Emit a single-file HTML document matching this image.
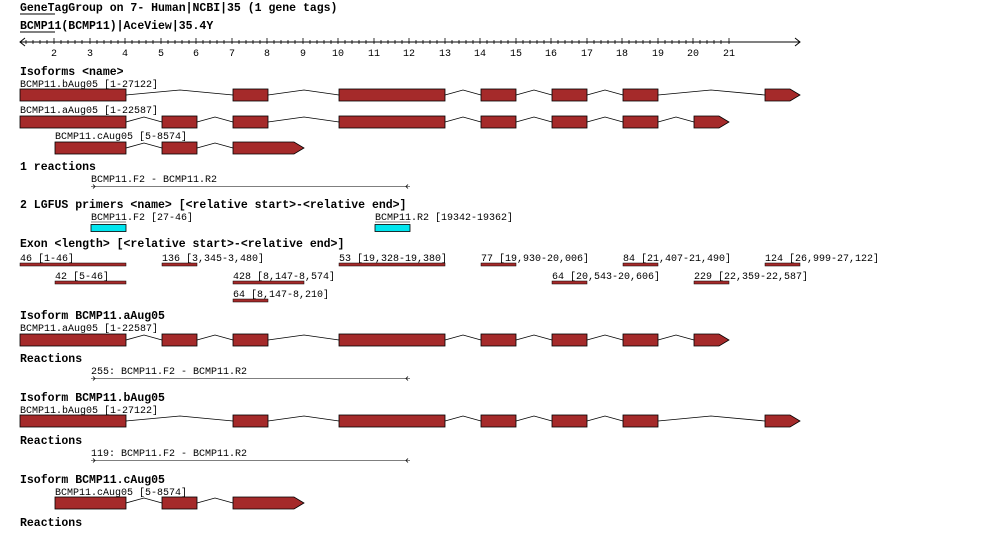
<!DOCTYPE html>
<html><head><style>
body{margin:0;background:#fff;}
svg{display:block;}
text{font-family:"Liberation Mono",monospace;fill:#000;}
.s{font-size:10px;}
.b{font-size:11.5px;font-weight:bold;}
.ex{fill:#a52a2a;stroke:#000;stroke-width:0.8;}
.in{fill:none;stroke:#000;stroke-width:0.8;}
.bar{fill:#a52a2a;stroke:#000;stroke-width:0.5;}
</style></head><body>
<svg width="1000" height="536" xmlns="http://www.w3.org/2000/svg">
<text class="b" x="20" y="11">GeneTagGroup on 7- Human|NCBI|35 (1 gene tags)</text>
<line x1="20" y1="14" x2="55" y2="14" stroke="#000"/>
<text class="b" x="20" y="29">BCMP11(BCMP11)|AceView|35.4Y</text>
<line x1="20" y1="32" x2="55" y2="32" stroke="#000"/>
<!-- axis -->
<line x1="20" y1="42" x2="800" y2="42" stroke="#000"/>
<polyline points="25,38 20,42 25,46" fill="none" stroke="#000"/>
<polyline points="795,38 800,42 795,46" fill="none" stroke="#000"/>
<g stroke="#000" stroke-width="0.8" id="ticks">
<script>/*no-op*/</script>
</g>
<g stroke="#000" stroke-width="0.8">
<path d="M26,40v4M33,40v4M40,40v4M47,40v4M54,38v6M61,40v4M68,40v4M75,40v4M82,40v4M90,38v6M97,40v4M104,40v4M111,40v4M118,40v4M125,38v6M132,40v4M139,40v4M146,40v4M153,40v4M161,38v6M168,40v4M175,40v4M182,40v4M189,40v4M196,38v6M203,40v4M210,40v4M217,40v4M224,40v4M232,38v6M239,40v4M246,40v4M253,40v4M260,40v4M267,38v6M274,40v4M281,40v4M288,40v4M295,40v4M303,38v6M310,40v4M317,40v4M324,40v4M331,40v4M338,38v6M345,40v4M352,40v4M359,40v4M366,40v4M374,38v6M381,40v4M388,40v4M395,40v4M402,40v4M409,38v6M416,40v4M423,40v4M430,40v4M437,40v4M445,38v6M452,40v4M459,40v4M466,40v4M473,40v4M480,38v6M487,40v4M494,40v4M501,40v4M508,40v4M516,38v6M523,40v4M530,40v4M537,40v4M544,40v4M551,38v6M558,40v4M565,40v4M572,40v4M579,40v4M587,38v6M594,40v4M601,40v4M608,40v4M615,40v4M622,38v6M629,40v4M636,40v4M643,40v4M650,40v4M658,38v6M665,40v4M672,40v4M679,40v4M686,40v4M693,38v6M700,40v4M707,40v4M714,40v4M721,40v4M729,38v6"/>
</g>
<g class="s">
<text x="51" y="56">2</text><text x="87" y="56">3</text><text x="122" y="56">4</text><text x="158" y="56">5</text><text x="193" y="56">6</text><text x="229" y="56">7</text><text x="264" y="56">8</text><text x="300" y="56">9</text><text x="332" y="56">10</text><text x="368" y="56">11</text><text x="403" y="56">12</text><text x="439" y="56">13</text><text x="474" y="56">14</text><text x="510" y="56">15</text><text x="545" y="56">16</text><text x="581" y="56">17</text><text x="616" y="56">18</text><text x="652" y="56">19</text><text x="687" y="56">20</text><text x="723" y="56">21</text>
</g>

<text class="b" x="20" y="75">Isoforms &lt;name&gt;</text>
<text class="s" x="20" y="87">BCMP11.bAug05 [1-27122]</text>
<!-- b row top -->
<g>
<polyline class="in" points="126,95 180,90 233,95"/>
<polyline class="in" points="268,95 304,90 339,95"/>
<polyline class="in" points="445,95 463,90 481,95"/>
<polyline class="in" points="516,95 534,90 552,95"/>
<polyline class="in" points="587,95 605,90 623,95"/>
<polyline class="in" points="658,95 711,90 765,95"/>
<rect class="ex" x="20" y="89" width="106" height="12"/>
<rect class="ex" x="233" y="89" width="35" height="12"/>
<rect class="ex" x="339" y="89" width="106" height="12"/>
<rect class="ex" x="481" y="89" width="35" height="12"/>
<rect class="ex" x="552" y="89" width="35" height="12"/>
<rect class="ex" x="623" y="89" width="35" height="12"/>
<polygon class="ex" points="765,89 790,89 800,95 790,101 765,101"/>
</g>
<text class="s" x="20" y="113">BCMP11.aAug05 [1-22587]</text>
<g>
<polyline class="in" points="126,122 144,117 162,122"/>
<polyline class="in" points="197,122 215,117 233,122"/>
<polyline class="in" points="268,122 304,117 339,122"/>
<polyline class="in" points="445,122 463,117 481,122"/>
<polyline class="in" points="516,122 534,117 552,122"/>
<polyline class="in" points="587,122 605,117 623,122"/>
<polyline class="in" points="658,122 676,117 694,122"/>
<rect class="ex" x="20" y="116" width="106" height="12"/>
<rect class="ex" x="162" y="116" width="35" height="12"/>
<rect class="ex" x="233" y="116" width="35" height="12"/>
<rect class="ex" x="339" y="116" width="106" height="12"/>
<rect class="ex" x="481" y="116" width="35" height="12"/>
<rect class="ex" x="552" y="116" width="35" height="12"/>
<rect class="ex" x="623" y="116" width="35" height="12"/>
<polygon class="ex" points="694,116 719,116 729,122 719,128 694,128"/>
</g>
<text class="s" x="55" y="139">BCMP11.cAug05 [5-8574]</text>
<g>
<polyline class="in" points="126,148 144,143 162,148"/>
<polyline class="in" points="197,148 215,143 233,148"/>
<rect class="ex" x="55" y="142" width="71" height="12"/>
<rect class="ex" x="162" y="142" width="35" height="12"/>
<polygon class="ex" points="233,142 294,142 304,148 294,154 233,154"/>
</g>

<text class="b" x="20" y="170">1 reactions</text>
<text class="s" x="91" y="182">BCMP11.F2 - BCMP11.R2</text>
<line x1="91" y1="186.5" x2="410" y2="186.5" stroke="#555" stroke-width="0.8"/>
<polyline points="93,184.5 95,186.5 93,188.5" fill="none" stroke="#000" stroke-width="0.8"/>
<polyline points="408,184.5 406,186.5 408,188.5" fill="none" stroke="#000" stroke-width="0.8"/>

<text class="b" x="20" y="208">2 LGFUS primers &lt;name&gt; [&lt;relative start&gt;-&lt;relative end&gt;]</text>
<text class="s" x="91" y="220">BCMP11.F2 [27-46]</text>
<text class="s" x="375" y="220">BCMP11.R2 [19342-19362]</text>
<line x1="91" y1="222" x2="126" y2="222" stroke="#000" stroke-width="0.6"/>
<line x1="375" y1="222" x2="410" y2="222" stroke="#000" stroke-width="0.6"/>
<rect x="91" y="224.5" width="35" height="7" fill="#00e5ee" stroke="#000" stroke-width="0.8"/>
<rect x="375" y="224.5" width="35" height="7" fill="#00e5ee" stroke="#000" stroke-width="0.8"/>

<text class="b" x="20" y="247">Exon &lt;length&gt; [&lt;relative start&gt;-&lt;relative end&gt;]</text>
<g class="s">
<text x="20" y="261">46 [1-46]</text>
<text x="162" y="261">136 [3,345-3,480]</text>
<text x="339" y="261">53 [19,328-19,380]</text>
<text x="481" y="261">77 [19,930-20,006]</text>
<text x="623" y="261">84 [21,407-21,490]</text>
<text x="765" y="261">124 [26,999-27,122]</text>
<text x="55" y="279">42 [5-46]</text>
<text x="233" y="279">428 [8,147-8,574]</text>
<text x="552" y="279">64 [20,543-20,606]</text>
<text x="694" y="279">229 [22,359-22,587]</text>
<text x="233" y="297">64 [8,147-8,210]</text>
</g>
<g>
<rect class="bar" x="20" y="263" width="106" height="3"/>
<rect class="bar" x="162" y="263" width="35" height="3"/>
<rect class="bar" x="339" y="263" width="106" height="3"/>
<rect class="bar" x="481" y="263" width="35" height="3"/>
<rect class="bar" x="623" y="263" width="35" height="3"/>
<rect class="bar" x="765" y="263" width="35" height="3"/>
<rect class="bar" x="55" y="281" width="71" height="3"/>
<rect class="bar" x="233" y="281" width="71" height="3"/>
<rect class="bar" x="552" y="281" width="35" height="3"/>
<rect class="bar" x="694" y="281" width="35" height="3"/>
<rect class="bar" x="233" y="299" width="35" height="3"/>
</g>

<text class="b" x="20" y="319">Isoform BCMP11.aAug05</text>
<text class="s" x="20" y="331">BCMP11.aAug05 [1-22587]</text>
<g>
<polyline class="in" points="126,340 144,335 162,340"/>
<polyline class="in" points="197,340 215,335 233,340"/>
<polyline class="in" points="268,340 304,335 339,340"/>
<polyline class="in" points="445,340 463,335 481,340"/>
<polyline class="in" points="516,340 534,335 552,340"/>
<polyline class="in" points="587,340 605,335 623,340"/>
<polyline class="in" points="658,340 676,335 694,340"/>
<rect class="ex" x="20" y="334" width="106" height="12"/>
<rect class="ex" x="162" y="334" width="35" height="12"/>
<rect class="ex" x="233" y="334" width="35" height="12"/>
<rect class="ex" x="339" y="334" width="106" height="12"/>
<rect class="ex" x="481" y="334" width="35" height="12"/>
<rect class="ex" x="552" y="334" width="35" height="12"/>
<rect class="ex" x="623" y="334" width="35" height="12"/>
<polygon class="ex" points="694,334 719,334 729,340 719,346 694,346"/>
</g>
<text class="b" x="20" y="362">Reactions</text>
<text class="s" x="91" y="374">255: BCMP11.F2 - BCMP11.R2</text>
<line x1="91" y1="378.5" x2="410" y2="378.5" stroke="#555" stroke-width="0.8"/>
<polyline points="93,376.5 95,378.5 93,380.5" fill="none" stroke="#000" stroke-width="0.8"/>
<polyline points="408,376.5 406,378.5 408,380.5" fill="none" stroke="#000" stroke-width="0.8"/>

<text class="b" x="20" y="401">Isoform BCMP11.bAug05</text>
<text class="s" x="20" y="413">BCMP11.bAug05 [1-27122]</text>
<g>
<polyline class="in" points="126,421 180,416 233,421"/>
<polyline class="in" points="268,421 304,416 339,421"/>
<polyline class="in" points="445,421 463,416 481,421"/>
<polyline class="in" points="516,421 534,416 552,421"/>
<polyline class="in" points="587,421 605,416 623,421"/>
<polyline class="in" points="658,421 711,416 765,421"/>
<rect class="ex" x="20" y="415" width="106" height="12"/>
<rect class="ex" x="233" y="415" width="35" height="12"/>
<rect class="ex" x="339" y="415" width="106" height="12"/>
<rect class="ex" x="481" y="415" width="35" height="12"/>
<rect class="ex" x="552" y="415" width="35" height="12"/>
<rect class="ex" x="623" y="415" width="35" height="12"/>
<polygon class="ex" points="765,415 790,415 800,421 790,427 765,427"/>
</g>
<text class="b" x="20" y="444">Reactions</text>
<text class="s" x="91" y="456">119: BCMP11.F2 - BCMP11.R2</text>
<line x1="91" y1="460.5" x2="410" y2="460.5" stroke="#555" stroke-width="0.8"/>
<polyline points="93,458.5 95,460.5 93,462.5" fill="none" stroke="#000" stroke-width="0.8"/>
<polyline points="408,458.5 406,460.5 408,462.5" fill="none" stroke="#000" stroke-width="0.8"/>

<text class="b" x="20" y="483">Isoform BCMP11.cAug05</text>
<text class="s" x="55" y="495">BCMP11.cAug05 [5-8574]</text>
<g>
<polyline class="in" points="126,503 144,498 162,503"/>
<polyline class="in" points="197,503 215,498 233,503"/>
<rect class="ex" x="55" y="497" width="71" height="12"/>
<rect class="ex" x="162" y="497" width="35" height="12"/>
<polygon class="ex" points="233,497 294,497 304,503 294,509 233,509"/>
</g>
<text class="b" x="20" y="526">Reactions</text>
</svg>
</body></html>
